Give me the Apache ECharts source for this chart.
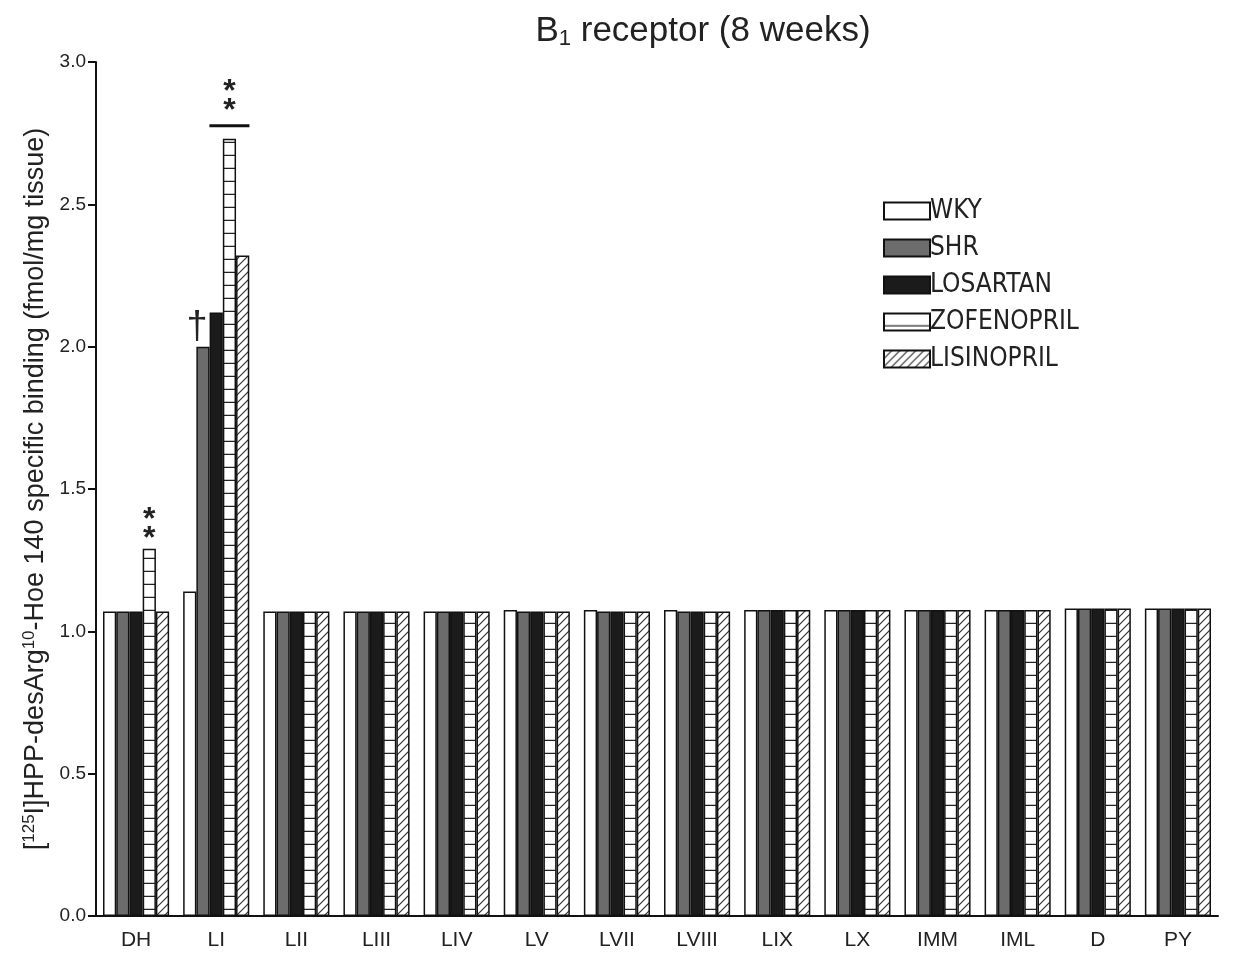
<!DOCTYPE html>
<html>
<head>
<meta charset="utf-8">
<script src="https://cdn.jsdelivr.net/npm/echarts@6/dist/echarts.min.js"></script>
<style>
  html, body { margin: 0; padding: 0; background: #fff; }
  #chart { width: 1236px; height: 954px; }
</style>
</head>
<body>
<div id="chart"></div>
<script>
// Spinal cord regions
const regions = ['DH', 'LI', 'LII', 'LIII', 'LIV', 'LV', 'LVII', 'LVIII', 'LIX', 'LX', 'IMM', 'IML', 'D', 'PY'];

// Specific binding (fmol/mg tissue) per group
const wky        = [1.07, 1.14, 1.07, 1.07, 1.07, 1.075, 1.075, 1.075, 1.075, 1.075, 1.075, 1.075, 1.08, 1.08];
const shr        = [1.07, 2.00, 1.07, 1.07, 1.07, 1.07, 1.07, 1.07, 1.075, 1.075, 1.075, 1.075, 1.08, 1.08];
const losartan   = [1.07, 2.12, 1.07, 1.07, 1.07, 1.07, 1.07, 1.07, 1.075, 1.075, 1.075, 1.075, 1.08, 1.08];
const zofenopril = [1.29, 2.73, 1.07, 1.07, 1.07, 1.07, 1.07, 1.07, 1.075, 1.075, 1.075, 1.075, 1.08, 1.08];
const lisinopril = [1.07, 2.32, 1.07, 1.07, 1.07, 1.07, 1.07, 1.07, 1.075, 1.075, 1.075, 1.075, 1.08, 1.08];

const yTicks = [0, 0.5, 1.0, 1.5, 2.0, 2.5, 3.0];

const FONT = "'Liberation Sans', Arial, sans-serif";
const NARROW = "'Liberation Sans Narrow', 'DejaVu Sans Condensed', 'Liberation Sans', sans-serif";

// Fill patterns
function gridPattern() {
  const c = document.createElement('canvas');
  c.width = 13; c.height = 13;
  const g = c.getContext('2d');
  g.fillStyle = '#fff'; g.fillRect(0, 0, 13, 13);
  g.strokeStyle = '#222'; g.lineWidth = 1.5;
  g.beginPath(); g.moveTo(0, 12.5); g.lineTo(13, 12.5); g.stroke();
  return { image: c, repeat: 'repeat' };
}
function hatchPattern() {
  const s = 8;
  const c = document.createElement('canvas');
  c.width = s; c.height = s;
  const g = c.getContext('2d');
  g.fillStyle = '#fff'; g.fillRect(0, 0, s, s);
  g.strokeStyle = '#333'; g.lineWidth = 1.2;
  g.beginPath();
  g.moveTo(0, s); g.lineTo(s, 0);
  g.moveTo(-s / 2, s / 2); g.lineTo(s / 2, -s / 2);
  g.moveTo(s / 2, s + s / 2); g.lineTo(s + s / 2, s / 2);
  g.stroke();
  return { image: c, repeat: 'repeat' };
}

const sigStyle = { fontSize: 32, fontFamily: FONT, fontWeight: 'bold', color: '#222', lineHeight: 19 };

// significance marks
const zofData = zofenopril.map((v, i) => {
  if (i === 0) {
    return { value: v, label: { show: true, position: 'top', distance: 0, formatter: '*\n*', ...sigStyle } };
  }
  if (i === 1) {
    return {
      value: v,
      label: {
        show: true, position: 'top', distance: 8,
        formatter: '{s|*}\n{s|*}\n{l|}',
        rich: {
          s: { ...sigStyle, align: 'center' },
          l: { width: 40, height: 3, lineHeight: 10, backgroundColor: '#111', align: 'center' }
        }
      }
    };
  }
  return v;
});
const shrData = shr.map((v, i) => i === 1
  ? { value: v, label: { show: true, position: 'top', distance: 0, offset: [-6, 0], formatter: '†', fontSize: 38, fontFamily: FONT, color: '#222' } }
  : v);

const border = { borderColor: '#111', borderWidth: 1.5 };
const bar = (name, data, color) => ({
  name, type: 'bar', data,
  barGap: '0%', barCategoryGap: '17.5%',
  itemStyle: { color, ...border }
});

const chart = echarts.init(document.getElementById('chart'), null, { renderer: 'canvas' });
chart.setOption({
  backgroundColor: '#fff',
  animation: false,
  title: {
    text: 'B{sub|1} receptor (8 weeks)',
    left: 698, top: 7, textAlign: 'center',
    textStyle: {
      fontFamily: FONT, fontSize: 35, fontWeight: 'normal', color: '#222',
      rich: { sub: { fontSize: 22, fontFamily: FONT, color: '#222', verticalAlign: 'bottom', padding: [16, 0, 0, 0] } }
    }
  },
  legend: {
    orient: 'vertical', left: 878, top: 193, icon: 'rect',
    itemWidth: 46, itemHeight: 17, itemGap: 11,
    textStyle: { fontFamily: NARROW, fontSize: 26, color: '#222', padding: [0, 0, 0, -5] },
    data: ['WKY', 'SHR', 'LOSARTAN', 'ZOFENOPRIL', 'LISINOPRIL']
  },
  grid: { left: 96, width: 1122, top: 62, height: 854 },
  xAxis: {
    type: 'category', data: regions,
    axisLine: { lineStyle: { color: '#111', width: 2 } },
    axisTick: { show: false },
    axisLabel: { fontFamily: FONT, fontSize: 21, color: '#222', margin: 14 }
  },
  yAxis: {
    type: 'value', min: 0, max: 3, interval: 0.5,
    name: '[{sup|125}I]HPP-desArg{sup|10}-Hoe 140 specific binding (fmol/mg tissue)',
    nameLocation: 'middle', nameRotate: 90, nameGap: 45,
    nameTextStyle: {
      fontFamily: FONT, fontSize: 27, color: '#222',
      rich: { sup: { fontSize: 17, fontFamily: FONT, color: '#222', verticalAlign: 'top', padding: [0, 0, 12, 0] } }
    },
    axisLine: { show: true, lineStyle: { color: '#111', width: 2 } },
    axisTick: { show: true, length: 8, lineStyle: { color: '#111', width: 2 } },
    splitLine: { show: false },
    axisLabel: {
      fontFamily: FONT, fontSize: 19, color: '#222', margin: 10,
      formatter: v => yTicks.includes(v) ? v.toFixed(1) : ''
    }
  },
  series: [
    bar('WKY', wky, '#fff'),
    bar('SHR', shrData, '#6c6c6c'),
    bar('LOSARTAN', losartan, '#1b1b1b'),
    bar('ZOFENOPRIL', zofData, gridPattern()),
    bar('LISINOPRIL', lisinopril, hatchPattern())
  ]
});
</script>
</body>
</html>
